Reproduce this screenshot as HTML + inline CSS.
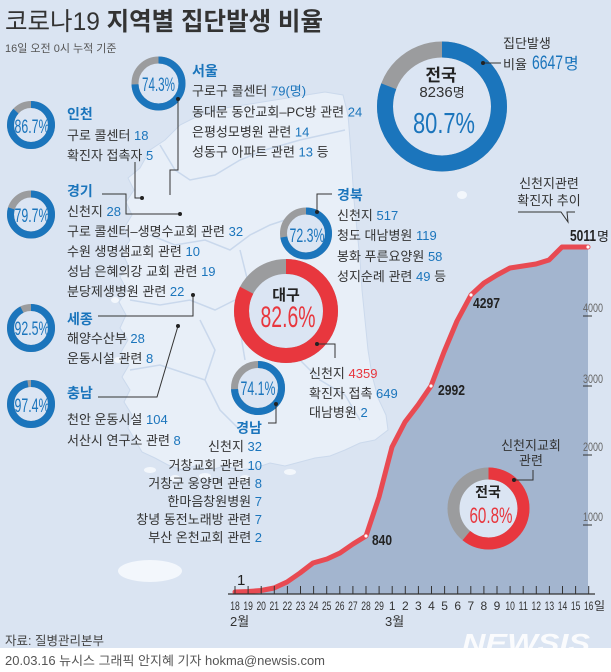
<!DOCTYPE html>
<html><head><meta charset="utf-8">
<style>
html,body{margin:0;padding:0;background:#dae4f2;}
svg{display:block;}
text{font-family:"Liberation Sans","Noto Sans CJK KR",sans-serif;}
.n{font-family:"Liberation Sans Narrow","Liberation Sans",sans-serif;}
.t{font-size:13px;fill:#333;}
.b{fill:#1b75bc;}
.r{fill:#e8373e;}
.h{font-size:14px;font-weight:bold;fill:#1b75bc;}
.pc{font-family:"Liberation Sans Narrow","Liberation Sans",sans-serif;fill:#1b75bc;text-anchor:middle;}
.ax{font-family:"Liberation Sans Narrow","Liberation Sans",sans-serif;font-size:12px;fill:#333;text-anchor:middle;}
.ya{font-family:"Liberation Sans Narrow","Liberation Sans",sans-serif;font-size:12px;fill:#666;}
.cl{stroke:#333;stroke-width:1;fill:none;}
</style></head><body>
<svg width="611" height="672" viewBox="0 0 611 672" xmlns="http://www.w3.org/2000/svg">
<rect width="611" height="672" fill="#dae4f2"/>

<!-- map -->
<path d="M140,168 L150,150 L165,140 L180,125 L200,115 L225,108 L250,104 L275,100 L300,96 L325,92 L343,95 L348,115 L350,140 L352,170 L354,200 L357,230 L360,260 L362,290 L365,320 L368,350 L372,375 L378,398 L386,415 L388,430 L375,440 L360,443 L345,450 L330,456 L315,458 L300,462 L285,466 L270,463 L255,468 L240,470 L225,466 L210,470 L195,466 L182,470 L168,465 L155,458 L142,452 L135,440 L128,428 L132,415 L124,402 L130,390 L122,377 L129,365 L121,352 L128,340 L120,328 L126,315 L119,302 L127,290 L120,277 L128,265 L122,252 L130,240 L124,228 L132,215 L126,202 L134,190 L128,178 Z" fill="#e8eff8" stroke="#cbd9ec" stroke-width="1"/>
<g stroke="#c9d8ec" stroke-width="1.5" fill="none">
<path d="M160,145 L175,170 L190,180 L215,175 L240,160 L265,150 L300,140 L345,130"/>
<path d="M150,235 L175,245 L205,240 L230,250 L250,235 L270,225 L300,215"/>
<path d="M130,300 L160,305 L190,300 L215,310 L235,300"/>
<path d="M200,320 L215,350 L205,380 L220,410 L240,430"/>
<path d="M130,370 L160,365 L190,375 L205,380"/>
<path d="M240,250 L250,290 L240,330 L245,360"/>
<path d="M300,360 L320,380 L345,395 L360,420"/>
</g>
<g fill="#f3f7fc">
<ellipse cx="150" cy="571" rx="32" ry="11"/>
<ellipse cx="462" cy="195" rx="5" ry="4"/>
<ellipse cx="150" cy="470" rx="6" ry="3"/>
<ellipse cx="175" cy="478" rx="5" ry="3"/>
<ellipse cx="205" cy="476" rx="6" ry="3"/>
<ellipse cx="245" cy="478" rx="5" ry="3"/>
<ellipse cx="290" cy="472" rx="6" ry="3"/>
<ellipse cx="118" cy="360" rx="4" ry="3"/>
<ellipse cx="115" cy="300" rx="4" ry="3"/>
</g>

<!-- title -->
<text x="5" y="30" font-size="25" textLength="318" lengthAdjust="spacingAndGlyphs" fill="#333"><tspan>코로나19 </tspan><tspan font-weight="bold">지역별 집단발생 비율</tspan></text>
<text x="5" y="52" font-size="11" fill="#555">16일 오전 0시 누적 기준</text>

<!-- chart fill & line -->
<polygon fill="#a3b5cf" points="235,592 248,591.5 261,590.5 274,588 287,582 300,573 313,563 327,559 340,553 353,544 366,536 379,497 392,447 405,422 418,405 431,386 444,352 457,321 471,295 484,283 497,275 510,268 523,266 536,264 549,260 562,247 575,247 588,247 588,594 235,594"/>
<polyline fill="none" stroke="#e84a52" stroke-width="5" stroke-linejoin="round" stroke-linecap="round" points="235,592 248,591.5 261,590.5 274,588 287,582 300,573 313,563 327,559 340,553 353,544 366,536 379,497 392,447 405,422 418,405 431,386 444,352 457,321 471,295 484,283 497,275 510,268 523,266 536,264 549,260 562,247 575,247 588,247"/>
<g fill="#fff"><circle cx="366" cy="536" r="1.6"/><circle cx="431" cy="386" r="1.6"/><circle cx="471" cy="295" r="1.6"/><circle cx="588" cy="247" r="1.6"/></g>

<!-- axis -->
<line x1="228" y1="594" x2="595" y2="594" stroke="#333" stroke-width="1.2"/>
<g stroke="#333" stroke-width="1">
<line x1="235" y1="586" x2="235" y2="594"/><line x1="248.1" y1="586" x2="248.1" y2="594"/><line x1="261.2" y1="586" x2="261.2" y2="594"/><line x1="274.3" y1="586" x2="274.3" y2="594"/><line x1="287.4" y1="586" x2="287.4" y2="594"/><line x1="300.5" y1="586" x2="300.5" y2="594"/><line x1="313.6" y1="586" x2="313.6" y2="594"/><line x1="326.7" y1="586" x2="326.7" y2="594"/><line x1="339.8" y1="586" x2="339.8" y2="594"/><line x1="352.9" y1="586" x2="352.9" y2="594"/><line x1="366" y1="586" x2="366" y2="594"/><line x1="379.1" y1="586" x2="379.1" y2="594"/><line x1="392.2" y1="586" x2="392.2" y2="594"/><line x1="405.3" y1="586" x2="405.3" y2="594"/><line x1="418.4" y1="586" x2="418.4" y2="594"/><line x1="431.5" y1="586" x2="431.5" y2="594"/><line x1="444.6" y1="586" x2="444.6" y2="594"/><line x1="457.7" y1="586" x2="457.7" y2="594"/><line x1="470.8" y1="586" x2="470.8" y2="594"/><line x1="483.9" y1="586" x2="483.9" y2="594"/><line x1="497" y1="586" x2="497" y2="594"/><line x1="510.1" y1="586" x2="510.1" y2="594"/><line x1="523.2" y1="586" x2="523.2" y2="594"/><line x1="536.3" y1="586" x2="536.3" y2="594"/><line x1="549.4" y1="586" x2="549.4" y2="594"/><line x1="562.5" y1="586" x2="562.5" y2="594"/><line x1="575.6" y1="586" x2="575.6" y2="594"/><line x1="588.7" y1="586" x2="588.7" y2="594"/>
</g>
<g>
<text class="ax" x="235" y="610" textLength="9.5" lengthAdjust="spacingAndGlyphs">18</text><text class="ax" x="248.1" y="610" textLength="9.5" lengthAdjust="spacingAndGlyphs">19</text><text class="ax" x="261.2" y="610" textLength="9.5" lengthAdjust="spacingAndGlyphs">20</text><text class="ax" x="274.3" y="610" textLength="9.5" lengthAdjust="spacingAndGlyphs">21</text><text class="ax" x="287.4" y="610" textLength="9.5" lengthAdjust="spacingAndGlyphs">22</text><text class="ax" x="300.5" y="610" textLength="9.5" lengthAdjust="spacingAndGlyphs">23</text><text class="ax" x="313.6" y="610" textLength="9.5" lengthAdjust="spacingAndGlyphs">24</text><text class="ax" x="326.7" y="610" textLength="9.5" lengthAdjust="spacingAndGlyphs">25</text><text class="ax" x="339.8" y="610" textLength="9.5" lengthAdjust="spacingAndGlyphs">26</text><text class="ax" x="352.9" y="610" textLength="9.5" lengthAdjust="spacingAndGlyphs">27</text><text class="ax" x="366" y="610" textLength="9.5" lengthAdjust="spacingAndGlyphs">28</text><text class="ax" x="379.1" y="610" textLength="9.5" lengthAdjust="spacingAndGlyphs">29</text><text class="ax" x="392.2" y="610">1</text><text class="ax" x="405.3" y="610">2</text><text class="ax" x="418.4" y="610">3</text><text class="ax" x="431.5" y="610">4</text><text class="ax" x="444.6" y="610">5</text><text class="ax" x="457.7" y="610">6</text><text class="ax" x="470.8" y="610">7</text><text class="ax" x="483.9" y="610">8</text><text class="ax" x="497" y="610">9</text><text class="ax" x="510.1" y="610" textLength="9.5" lengthAdjust="spacingAndGlyphs">10</text><text class="ax" x="523.2" y="610" textLength="9.5" lengthAdjust="spacingAndGlyphs">11</text><text class="ax" x="536.3" y="610" textLength="9.5" lengthAdjust="spacingAndGlyphs">12</text><text class="ax" x="549.4" y="610" textLength="9.5" lengthAdjust="spacingAndGlyphs">13</text><text class="ax" x="562.5" y="610" textLength="9.5" lengthAdjust="spacingAndGlyphs">14</text><text class="ax" x="575.6" y="610" textLength="9.5" lengthAdjust="spacingAndGlyphs">15</text>
<text class="ax" x="588.7" y="610" textLength="9.5" lengthAdjust="spacingAndGlyphs">16</text>
<text x="594" y="610" font-size="12" fill="#333">일</text>
</g>
<text x="230" y="626" font-size="13" fill="#333">2월</text>
<text x="385" y="626" font-size="13" fill="#333">3월</text>

<!-- right y labels -->
<text class="ya" x="583" y="312" textLength="20" lengthAdjust="spacingAndGlyphs">4000</text><line x1="583" y1="316" x2="592" y2="316" stroke="#333"/>
<text class="ya" x="583" y="383" textLength="20" lengthAdjust="spacingAndGlyphs">3000</text><line x1="583" y1="386" x2="592" y2="386" stroke="#333"/>
<text class="ya" x="583" y="451" textLength="20" lengthAdjust="spacingAndGlyphs">2000</text><line x1="583" y1="455" x2="592" y2="455" stroke="#333"/>
<text class="ya" x="583" y="521" textLength="20" lengthAdjust="spacingAndGlyphs">1000</text><line x1="583" y1="525" x2="592" y2="525" stroke="#333"/>

<!-- chart value labels -->
<text class="n" x="237" y="585" font-size="15" fill="#222">1</text>
<text class="n" x="372" y="545" font-size="15" font-weight="bold" fill="#222" textLength="20" lengthAdjust="spacingAndGlyphs">840</text>
<text class="n" x="438" y="395" font-size="15" font-weight="bold" fill="#222" textLength="27" lengthAdjust="spacingAndGlyphs">2992</text>
<text class="n" x="473" y="308" font-size="15" font-weight="bold" fill="#222" textLength="27" lengthAdjust="spacingAndGlyphs">4297</text>
<text class="n" x="570" y="241" font-size="16" font-weight="bold" fill="#222" textLength="26" lengthAdjust="spacingAndGlyphs">5011</text>
<text x="597" y="241" font-size="13" fill="#222">명</text>

<!-- chart title -->
<text x="549" y="188" font-size="13" fill="#333" text-anchor="middle">신천지관련</text>
<text x="549" y="205" font-size="13" fill="#333" text-anchor="middle">확진자 추이</text>
<path d="M518,212 H561 L568,222 L567,212 H575" class="cl"/>

<!-- inner chart donut -->
<circle cx="488.5" cy="508.5" r="35" fill="#dbe5f3" stroke="#9b9c9e" stroke-width="12"/>
<circle cx="488.5" cy="508.5" r="35" fill="none" stroke="#e8373e" stroke-width="12" stroke-dasharray="133.71 219.91" transform="rotate(-90 488.5 508.5)"/>
<text x="488" y="497" font-size="14" font-weight="bold" fill="#222" text-anchor="middle">전국</text>
<text class="n" x="491" y="523" font-size="22" fill="#e8373e" text-anchor="middle" textLength="43" lengthAdjust="spacingAndGlyphs">60.8%</text>
<text x="531" y="450" font-size="13" fill="#333" text-anchor="middle">신천지교회</text>
<text x="531" y="465" font-size="13" fill="#333" text-anchor="middle">관련</text>
<path d="M514,480 H533 V470" class="cl"/><circle cx="514" cy="480" r="2" fill="#222"/>

<!-- national donut -->
<circle cx="442" cy="106.5" r="57" fill="#dbe5f3" stroke="#9b9c9e" stroke-width="16"/>
<circle cx="442" cy="106.5" r="57" fill="none" stroke="#1b75bc" stroke-width="16" stroke-dasharray="289.02 358.14" transform="rotate(-90 442 106.5)"/>
<text x="441" y="81" font-size="17" font-weight="bold" fill="#222" text-anchor="middle">전국</text>
<text x="442" y="97" fill="#333" text-anchor="middle"><tspan class="n" font-size="15">8236</tspan><tspan font-size="13">명</tspan></text>
<text class="n" x="444" y="133" font-size="29" fill="#1b75bc" text-anchor="middle" textLength="62" lengthAdjust="spacingAndGlyphs">80.7%</text>
<text x="503" y="48" font-size="13" fill="#333">집단발생</text>
<text x="503" y="69" font-size="13" fill="#333">비율</text>
<text class="n b" x="532" y="69" font-size="19" textLength="31" lengthAdjust="spacingAndGlyphs">6647</text>
<text class="b" x="564" y="69" font-size="16">명</text>
<path d="M483,63 H501" class="cl"/><circle cx="483" cy="63" r="2" fill="#222"/>

<!-- Seoul -->
<circle cx="158.5" cy="83.5" r="23.5" fill="#dbe5f3" stroke="#9b9c9e" stroke-width="7"/>
<circle cx="158.5" cy="83.5" r="23.5" fill="none" stroke="#1b75bc" stroke-width="7" stroke-dasharray="109.7 147.65" transform="rotate(-90 158.5 83.5)"/>
<text class="pc" x="158.5" y="91" font-size="19" textLength="33" lengthAdjust="spacingAndGlyphs">74.3%</text>
<text class="h" x="192" y="76">서울</text>
<text class="t" x="192" y="95.5">구로구 콜센터 <tspan class="n b">79(명)</tspan></text>
<text class="t" x="192" y="116.5">동대문 동안교회–PC방 관련 <tspan class="n b">24</tspan></text>
<text class="t" x="192" y="136.5">은평성모병원 관련 <tspan class="n b">14</tspan></text>
<text class="t" x="192" y="156.5">성동구  아파트 관련 <tspan class="n b">13</tspan> 등</text>
<path d="M178,99 V170 H170 V195" class="cl"/><circle cx="178" cy="99" r="2" fill="#222"/>

<!-- Incheon -->
<circle cx="31" cy="125" r="20.5" fill="#dbe5f3" stroke="#9b9c9e" stroke-width="7"/>
<circle cx="31" cy="125" r="20.5" fill="none" stroke="#1b75bc" stroke-width="7" stroke-dasharray="111.68 128.81" transform="rotate(-90 31 125)"/>
<text class="pc" x="32" y="133" font-size="19" textLength="35" lengthAdjust="spacingAndGlyphs">86.7%</text>
<text class="h" x="67" y="119">인천</text>
<text class="t" x="67" y="140">구로 콜센터 <tspan class="n b">18</tspan></text>
<text class="t" x="67" y="160">확진자 접촉자 <tspan class="n b">5</tspan></text>
<path d="M135,162 V198 H142" class="cl"/><circle cx="142" cy="198" r="2" fill="#222"/>

<!-- Gyeonggi -->
<circle cx="31" cy="214.5" r="20.5" fill="#dbe5f3" stroke="#9b9c9e" stroke-width="7"/>
<circle cx="31" cy="214.5" r="20.5" fill="none" stroke="#1b75bc" stroke-width="7" stroke-dasharray="102.66 128.81" transform="rotate(-90 31 214.5)"/>
<text class="pc" x="32" y="222" font-size="19" textLength="35" lengthAdjust="spacingAndGlyphs">79.7%</text>
<text class="h" x="67" y="196">경기</text>
<text class="t" x="67" y="216">신천지 <tspan class="n b">28</tspan></text>
<text class="t" x="67" y="236">구로 콜센터–생명수교회 관련 <tspan class="n b">32</tspan></text>
<text class="t" x="67" y="256">수원 생명샘교회 관련 <tspan class="n b">10</tspan></text>
<text class="t" x="67" y="276">성남 은혜의강 교회 관련 <tspan class="n b">19</tspan></text>
<text class="t" x="67" y="296">분당제생병원 관련 <tspan class="n b">22</tspan></text>
<path d="M102,194 H126 V214 H180" class="cl"/><circle cx="180" cy="214" r="2" fill="#222"/>

<!-- Sejong -->
<circle cx="31" cy="328" r="20.5" fill="#dbe5f3" stroke="#9b9c9e" stroke-width="7"/>
<circle cx="31" cy="328" r="20.5" fill="none" stroke="#1b75bc" stroke-width="7" stroke-dasharray="119.15 128.81" transform="rotate(-90 31 328)"/>
<text class="pc" x="32" y="335" font-size="19" textLength="35" lengthAdjust="spacingAndGlyphs">92.5%</text>
<text class="h" x="67" y="324">세종</text>
<text class="t" x="67" y="343">해양수산부 <tspan class="n b">28</tspan></text>
<text class="t" x="67" y="363">운동시설 관련 <tspan class="n b">8</tspan></text>
<path d="M98,316 H193 V295" class="cl"/><circle cx="193" cy="295" r="2" fill="#222"/>

<!-- Chungnam -->
<circle cx="31" cy="404" r="20.5" fill="#dbe5f3" stroke="#9b9c9e" stroke-width="7"/>
<circle cx="31" cy="404" r="20.5" fill="none" stroke="#1b75bc" stroke-width="7" stroke-dasharray="125.46 128.81" transform="rotate(-90 31 404)"/>
<text class="pc" x="32" y="412" font-size="19" textLength="35" lengthAdjust="spacingAndGlyphs">97.4%</text>
<text class="h" x="67" y="398">충남</text>
<text class="t" x="67" y="424">천안 운동시설 <tspan class="n b">104</tspan></text>
<text class="t" x="67" y="445">서산시 연구소 관련 <tspan class="n b">8</tspan></text>
<path d="M98,397 H157 L178,326" class="cl"/><circle cx="178" cy="326" r="2" fill="#222"/>

<!-- Gyeongbuk -->
<circle cx="306" cy="233.5" r="22.5" fill="#dbe5f3" stroke="#9b9c9e" stroke-width="7"/>
<circle cx="306" cy="233.5" r="22.5" fill="none" stroke="#1b75bc" stroke-width="7" stroke-dasharray="102.21 141.37" transform="rotate(-90 306 233.5)"/>
<text class="pc" x="307" y="242" font-size="19" textLength="35" lengthAdjust="spacingAndGlyphs">72.3%</text>
<text class="h" x="337" y="200">경북</text>
<text class="t" x="337" y="220">신천지 <tspan class="n b">517</tspan></text>
<text class="t" x="337" y="240">청도 대남병원 <tspan class="n b">119</tspan></text>
<text class="t" x="337" y="261">봉화 푸른요양원 <tspan class="n b">58</tspan></text>
<text class="t" x="337" y="281">성지순례 관련 <tspan class="n b">49</tspan> 등</text>
<path d="M317,212 V194 H332" class="cl"/><circle cx="317" cy="212" r="2" fill="#222"/>

<!-- Daegu -->
<circle cx="286" cy="311" r="44.5" fill="#dbe5f3" stroke="#9b9c9e" stroke-width="15"/>
<circle cx="286" cy="311" r="44.5" fill="none" stroke="#e8373e" stroke-width="15" stroke-dasharray="230.95 279.6" transform="rotate(-90 286 311)"/>
<text x="286" y="300" font-size="15" font-weight="bold" fill="#222" text-anchor="middle">대구</text>
<text class="n" x="288" y="327" font-size="30" fill="#e8373e" text-anchor="middle" textLength="55" lengthAdjust="spacingAndGlyphs">82.6%</text>
<text class="t" x="309" y="378">신천지 <tspan class="n r">4359</tspan></text>
<text class="t" x="309" y="398">확진자 접촉 <tspan class="n b">649</tspan></text>
<text class="t" x="309" y="417">대남병원 <tspan class="n b">2</tspan></text>
<path d="M317,344 H335 V358" class="cl"/><circle cx="317" cy="344" r="2" fill="#222"/>

<!-- Gyeongnam -->
<circle cx="258" cy="388" r="23.5" fill="#dbe5f3" stroke="#9b9c9e" stroke-width="7"/>
<circle cx="258" cy="388" r="23.5" fill="none" stroke="#1b75bc" stroke-width="7" stroke-dasharray="109.41 147.65" transform="rotate(-90 258 388)"/>
<text class="pc" x="258" y="395" font-size="19" textLength="35" lengthAdjust="spacingAndGlyphs">74.1%</text>
<text class="h" x="249" y="433" text-anchor="middle">경남</text>
<path d="M276,404 V423 H268" class="cl"/><circle cx="276" cy="404" r="2" fill="#222"/>
<g text-anchor="end">
<text class="t" x="262" y="451">신천지 <tspan class="n b">32</tspan></text>
<text class="t" x="262" y="470">거창교회 관련 <tspan class="n b">10</tspan></text>
<text class="t" x="262" y="488">거창군 웅양면 관련 <tspan class="n b">8</tspan></text>
<text class="t" x="262" y="506">한마음창원병원 <tspan class="n b">7</tspan></text>
<text class="t" x="262" y="524">창녕 동전노래방 관련 <tspan class="n b">7</tspan></text>
<text class="t" x="262" y="542">부산 온천교회 관련 <tspan class="n b">2</tspan></text>
</g>

<!-- footer -->
<text x="5" y="645" font-size="12.5" fill="#444">자료: 질병관리본부</text>
<text x="462" y="652" font-size="26" font-weight="bold" font-style="italic" fill="#ffffff" fill-opacity="0.85" textLength="128" lengthAdjust="spacingAndGlyphs">NEWSIS</text>
<rect x="0" y="648" width="611" height="24" fill="#ffffff"/>
<text x="5" y="665" font-size="12.5" fill="#555" textLength="320" lengthAdjust="spacingAndGlyphs">20.03.16 뉴시스 그래픽 안지혜 기자 hokma@newsis.com</text>
</svg>
</body></html>
